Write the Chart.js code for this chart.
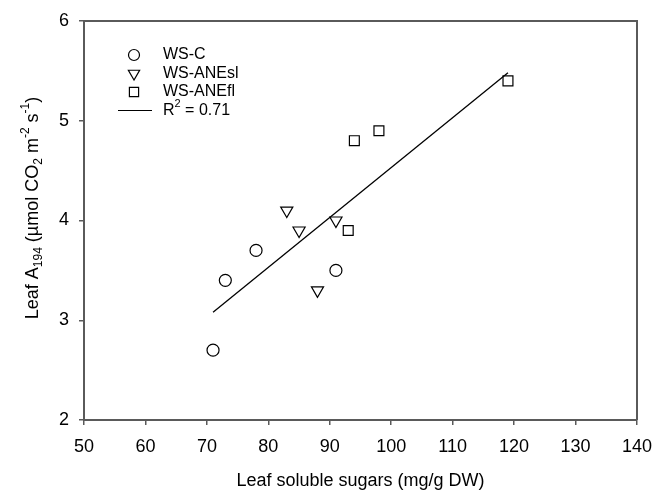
<!DOCTYPE html>
<html>
<head>
<meta charset="utf-8">
<script src="https://cdn.jsdelivr.net/npm/chart.js@4/dist/chart.umd.min.js"></script>
<style>
  html, body { margin: 0; padding: 0; background: #fff; }
  #wrap { width: 655px; height: 490px; }
</style>
</head>
<body>
<div id="wrap"><canvas id="c" width="655" height="490"></canvas></div>
<script>
// Daten
const wsC_x = [71, 73, 78, 91];
const wsC_y = [2.7, 3.4, 3.7, 3.5];
const wsANEsl_x = [83, 85, 88, 91];
const wsANEsl_y = [4.1, 3.9, 3.3, 4.0];
const wsANEfl_x = [93, 94, 98, 119];
const wsANEfl_y = [3.9, 4.8, 4.9, 5.4];
const fit_x = [71, 119];
const fit_y = [3.08, 5.48];
const xTicks = [50, 60, 70, 80, 90, 100, 110, 120, 130, 140];
const yTicks = [2, 3, 4, 5, 6];
const legendLabels = ['WS-C', 'WS-ANEsl', 'WS-ANEfl'];

const FONT = '"Liberation Sans", Arial, sans-serif';
const AXIS_COLOR = '#5a5a5a';

function pts(xs, ys) {
    return xs.map((x, i) => ({ x: x, y: ys[i] }));
}

// Text mit Hoch-/Tiefstellung zeichnen
function drawRich(ctx, parts, x, y, size, align) {
    const small = Math.round(size * 0.68);
    let total = 0;
    parts.forEach(p => {
        ctx.font = (p.s ? small : size) + 'px ' + FONT;
        total += ctx.measureText(p.t).width;
    });
    let cx = align === 'center' ? x - total / 2 : x;
    ctx.textBaseline = 'middle';
    ctx.textAlign = 'left';
    parts.forEach(p => {
        ctx.font = (p.s ? small : size) + 'px ' + FONT;
        let dy = 0;
        if (p.s === 'sub') dy = size * 0.3;
        if (p.s === 'sup') dy = -size * 0.38;
        ctx.fillText(p.t, cx, y + dy);
        cx += ctx.measureText(p.t).width;
    });
}

const extras = {
    id: 'extras',
    afterDraw(chart) {
        const ctx = chart.ctx;
        const a = chart.chartArea;
        ctx.save();
        // Rahmen oben und rechts
        ctx.strokeStyle = AXIS_COLOR;
        ctx.lineWidth = 2;
        ctx.beginPath();
        ctx.moveTo(a.left, a.top);
        ctx.lineTo(a.right, a.top);
        ctx.lineTo(a.right, a.bottom);
        ctx.stroke();

        ctx.fillStyle = '#000';
        // x-Achsentitel
        drawRich(ctx, [{ t: 'Leaf soluble sugars (mg/g DW)' }], (a.left + a.right) / 2, 481, 18, 'center');

        // y-Achsentitel
        ctx.save();
        ctx.translate(33, 208);
        ctx.rotate(-Math.PI / 2);
        drawRich(ctx, [
            { t: 'Leaf A' }, { t: '194', s: 'sub' }, { t: ' (\u00b5mol CO' }, { t: '2', s: 'sub' },
            { t: ' m' }, { t: '-2', s: 'sup' }, { t: ' s' }, { t: '-1', s: 'sup' }, { t: ')' }
        ], 0, 0, 18, 'center');
        ctx.restore();

        // Legende
        const lx = 134, ly = 55, step = 18.5, tx = 163;
        const styles = [
            { pointStyle: 'circle', rotation: 0, radius: 5.5, borderWidth: 1.2 },
            { pointStyle: 'triangle', rotation: 180, radius: 6.5, borderWidth: 1.2 },
            { pointStyle: 'rect', rotation: 0, radius: 6.5, borderWidth: 1.2 }
        ];
        ctx.strokeStyle = '#000';
        ctx.lineWidth = 1.2;
        styles.forEach((st, i) => {
            ctx.fillStyle = 'rgba(0,0,0,0)';
            ctx.strokeStyle = '#000';
            Chart.helpers.drawPoint(ctx, st, lx, ly + i * step);
            ctx.fillStyle = '#000';
            drawRich(ctx, [{ t: legendLabels[i] }], tx, ly + i * step, 16, 'left');
        });
        const yl = ly + 3 * step;
        ctx.beginPath();
        ctx.moveTo(118, yl);
        ctx.lineTo(152, yl);
        ctx.stroke();
        drawRich(ctx, [{ t: 'R' }, { t: '2', s: 'sup' }, { t: ' = 0.71' }], tx, yl, 16, 'left');
        ctx.restore();
    }
};

const markerCommon = {
    showLine: false,
    borderColor: '#000',
    backgroundColor: 'rgba(0,0,0,0)',
    borderWidth: 1.2
};

new Chart(document.getElementById('c'), {
    type: 'scatter',
    data: {
        datasets: [
            Object.assign({ label: 'WS-C', data: pts(wsC_x, wsC_y), pointStyle: 'circle', pointRadius: 6 }, markerCommon),
            Object.assign({ label: 'WS-ANEsl', data: pts(wsANEsl_x, wsANEsl_y), pointStyle: 'triangle', pointRotation: 180, pointRadius: 7 }, markerCommon),
            Object.assign({ label: 'WS-ANEfl', data: pts(wsANEfl_x, wsANEfl_y), pointStyle: 'rect', pointRadius: 7 }, markerCommon),
            {
                label: 'fit',
                type: 'line',
                data: pts(fit_x, fit_y),
                showLine: true,
                borderColor: '#000',
                borderWidth: 1.3,
                pointRadius: 0,
                fill: false
            }
        ]
    },
    options: {
        responsive: false,
        animation: false,
        events: [],
        layout: { padding: { top: 21, right: 18, left: 0, bottom: 0 } },
        plugins: { legend: { display: false }, tooltip: { enabled: false } },
        scales: {
            x: {
                type: 'linear',
                min: 50, max: 140,
                afterBuildTicks: s => { s.ticks = xTicks.map(v => ({ value: v })); },
                afterFit: s => { s.height = 70; s.paddingRight = 0; s.paddingLeft = 0; },
                grid: { drawOnChartArea: false, drawTicks: true, tickLength: 5, color: AXIS_COLOR, lineWidth: 1.5 },
                border: { color: AXIS_COLOR, width: 2 },
                ticks: { color: '#000', font: { family: FONT, size: 18 }, padding: 11, maxRotation: 0 }
            },
            y: {
                type: 'linear',
                min: 2, max: 6,
                afterBuildTicks: s => { s.ticks = yTicks.map(v => ({ value: v })); },
                afterFit: s => { s.width = 84; s.paddingTop = 0; s.paddingBottom = 0; },
                grid: { drawOnChartArea: false, drawTicks: true, tickLength: 5, color: AXIS_COLOR, lineWidth: 1.5 },
                border: { color: AXIS_COLOR, width: 2 },
                ticks: { color: '#000', font: { family: FONT, size: 18 }, padding: 10 }
            }
        }
    },
    plugins: [extras]
});
</script>
</body>
</html>
